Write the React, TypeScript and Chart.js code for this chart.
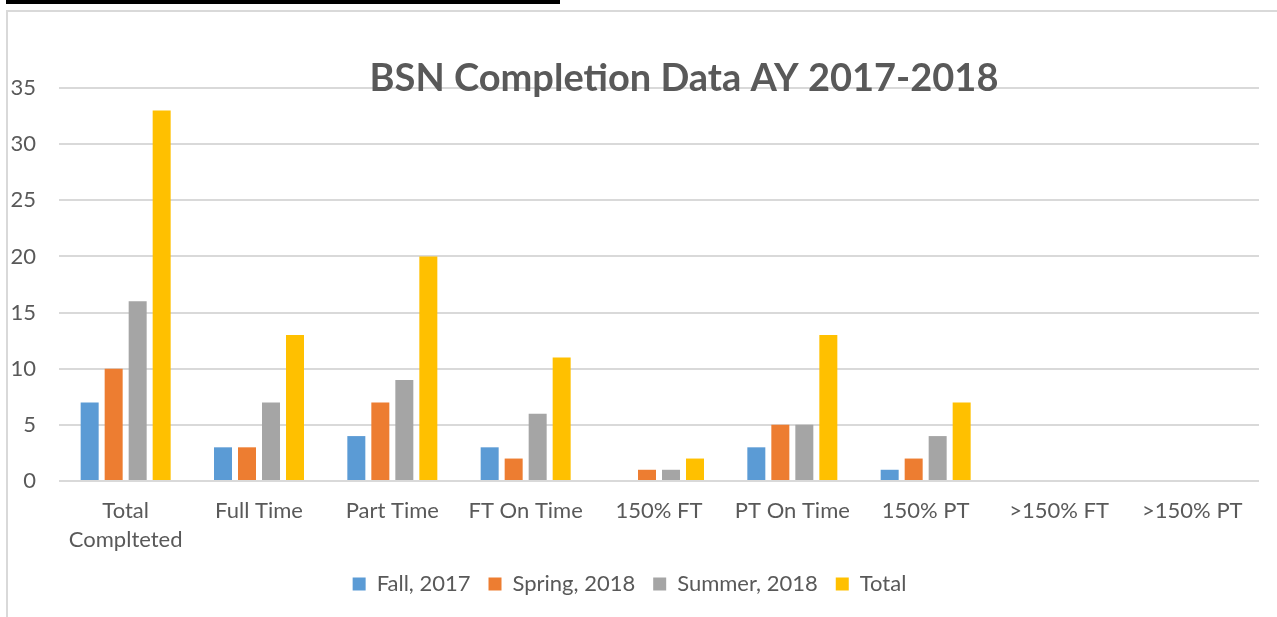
import React, { useEffect, useRef } from "react";
import { Chart, registerables } from "chart.js";

Chart.register(...registerables);

const titleText = "BSN Completion Data AY 2017-2018";
const categories: (string | string[])[] = [
  ["Total", "Complteted"],
  "Full Time",
  "Part Time",
  "FT On Time",
  "150% FT",
  "PT On Time",
  "150% PT",
  ">150% FT",
  ">150% PT",
];
const seriesNames = ["Fall, 2017", "Spring, 2018", "Summer, 2018", "Total"];
const fall2017 = [7, 3, 4, 3, 0, 3, 1, 0, 0];
const spring2018 = [10, 3, 7, 2, 1, 5, 2, 0, 0];
const summer2018 = [16, 7, 9, 6, 1, 5, 4, 0, 0];
const totals = [33, 13, 20, 11, 2, 13, 7, 0, 0];
const yMin = 0;
const yMax = 35;
const yStep = 5;

const colors = ["#5B9BD5", "#ED7D31", "#A5A5A5", "#FFC000"];
const textColor = "#595959";
const gridColor = "#D9D9D9";
const FONT = "Lato";

export default function App() {
  const ref = useRef<HTMLCanvasElement | null>(null);

  useEffect(() => {
    if (!ref.current) return;
    const values = [fall2017, spring2018, summer2018, totals];
    const titlePlugin = {
      id: "excelTitle",
      afterDraw(chart: any) {
        const ctx = chart.ctx;
        ctx.save();
        ctx.font = `bold 38px ${FONT}`;
        ctx.fillStyle = textColor;
        ctx.textAlign = "center";
        ctx.textBaseline = "middle";
        ctx.fillText(titleText, 684, 79);
        ctx.restore();
      },
    };
    const chart = new Chart(ref.current, {
      type: "bar",
      data: {
        labels: categories,
        datasets: seriesNames.map((name, i) => ({
          label: name,
          data: values[i],
          backgroundColor: colors[i],
          borderWidth: 0,
          barPercentage: 0.75,
          categoryPercentage: 0.72,
        })),
      },
      options: {
        responsive: false,
        animation: false,
        layout: { padding: { left: 0, right: 18, top: 88, bottom: 12 } },
        plugins: {
          legend: {
            position: "bottom",
            labels: {
              color: textColor,
              font: { family: FONT, size: 22 },
              boxWidth: 13,
              boxHeight: 13,
              padding: 18,
            },
          },
          tooltip: { enabled: false },
          title: { display: false },
        },
        scales: {
          x: {
            grid: { display: false, drawTicks: false },
            border: { display: false },
            ticks: {
              color: textColor,
              font: { family: FONT, size: 22, lineHeight: 1.32 },
              padding: 15,
              maxRotation: 0,
              autoSkip: false,
            },
            afterFit(axis: any) {
              axis.height = 74;
            },
          },
          y: {
            min: yMin,
            max: yMax,
            grid: { color: gridColor, lineWidth: 2, drawTicks: false },
            border: { display: false },
            ticks: {
              stepSize: yStep,
              color: textColor,
              font: { family: FONT, size: 22 },
              padding: 23,
            },
            afterFit(axis: any) {
              axis.width = 59;
            },
          },
        },
      },
      plugins: [titlePlugin],
    });
    return () => chart.destroy();
  }, []);

  return (
    <div
      style={{
        position: "fixed",
        left: 0,
        top: 0,
        width: 1277,
        height: 617,
        overflow: "hidden",
        background: "#fff",
      }}
    >
      <div
        style={{
          position: "absolute",
          left: 6,
          top: 0,
          width: 554,
          height: 4,
          background: "#000",
        }}
      />
      <div
        style={{
          position: "absolute",
          left: 6,
          top: 10,
          width: 1400,
          height: 700,
          border: `2px solid ${gridColor}`,
          boxSizing: "border-box",
        }}
      />
      <canvas
        ref={ref}
        width={1277}
        height={617}
        style={{ position: "absolute", left: 0, top: 0 }}
      />
    </div>
  );
}
